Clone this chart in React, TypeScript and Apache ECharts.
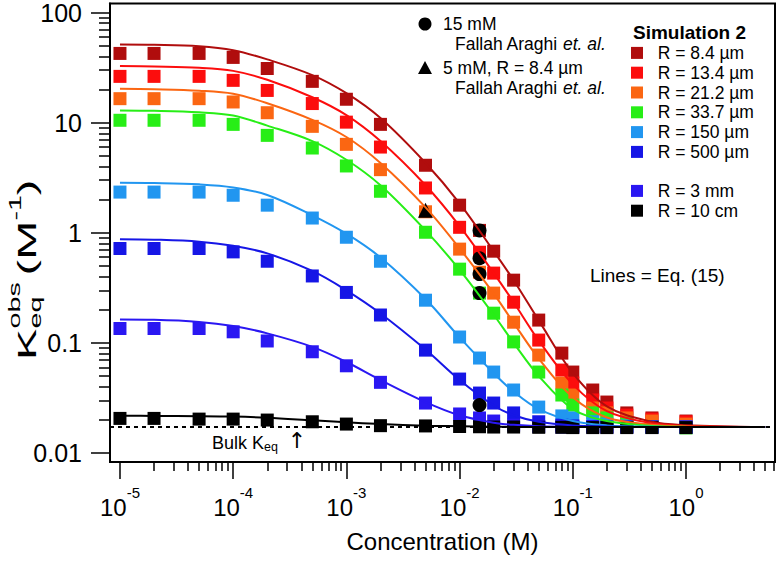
import React, { useEffect, useRef } from "react";
import * as echarts from "echarts";

const FONT = '"Liberation Sans", Arial, Helvetica, sans-serif';

// ---------- data ----------
// concentrations (M) of the simulated points (squares)
const CONC = [1e-5, 2e-5, 5e-5, 1e-4, 2e-4, 5e-4, 1e-3, 2e-3, 5e-3, 1e-2, 1.5e-2, 2e-2, 3e-2, 5e-2, 8e-2, 1e-1, 1.5e-1, 2e-1, 3e-1, 5e-1, 1];

// Simulation 2, K_eq^obs (M^-1)
const SIM_8_4UM = [42.5, 42.5, 42.5, 39.1, 31.0, 23.7, 16.3, 9.64, 4.1, 1.78, 1.05, 0.68, 0.371, 0.161, 0.0807, 0.0543, 0.0373, 0.029, 0.0231, 0.0208, 0.0195];
const SIM_13_4UM = [26.3, 26.3, 26.3, 24.2, 19.6, 14.9, 10.1, 6.0, 2.55, 1.12, 0.665, 0.43, 0.234, 0.106, 0.0566, 0.0431, 0.0303, 0.0256, 0.0221, 0.0203, 0.0192];
const SIM_21_2UM = [16.5, 16.5, 16.5, 15.4, 12.3, 9.25, 6.35, 3.74, 1.55, 0.71, 0.438, 0.283, 0.154, 0.0774, 0.0431, 0.0336, 0.0256, 0.0231, 0.0208, 0.0195, 0.0183];
const SIM_33_7UM = [10.5, 10.5, 10.5, 9.64, 7.66, 5.88, 4.04, 2.38, 1.01, 0.467, 0.283, 0.186, 0.102, 0.0543, 0.0336, 0.0272, 0.0231, 0.0208, 0.0187, 0.0172, 0.0169];
const SIM_150UM = [2.34, 2.34, 2.34, 2.19, 1.78, 1.36, 0.91, 0.551, 0.244, 0.113, 0.0728, 0.0543, 0.0373, 0.0261, 0.0217, 0.0208, 0.0192, 0.0183, 0.0176, 0.0172, 0.0172];
const SIM_500UM = [0.719, 0.719, 0.719, 0.67, 0.551, 0.405, 0.287, 0.179, 0.0859, 0.0469, 0.035, 0.0284, 0.0231, 0.0192, 0.0179, 0.0176, 0.0174, 0.0172, 0.0172, 0.0172, 0.0172];
const SIM_3MM = [0.135, 0.135, 0.135, 0.126, 0.104, 0.083, 0.0619, 0.0438, 0.0284, 0.0226, 0.0208, 0.0195, 0.0179, 0.0174, 0.0172, 0.0172, 0.0172, 0.0172, 0.0172, 0.0172, 0.0172];
const SIM_10CM = [0.0206, 0.0206, 0.0203, 0.0203, 0.0199, 0.0192, 0.0183, 0.0177, 0.0176, 0.0174, 0.0173, 0.0172, 0.0172, 0.0171, 0.0171, 0.017, 0.017, 0.017, 0.017, 0.017, 0.017];

// Lines = Eq. (15)
const LINE_CONC = [1e-5, 2e-5, 5e-5, 1e-4, 2e-4, 5e-4, 1e-3, 2e-3, 5e-3, 1e-2, 2e-2, 3e-2, 5e-2, 1e-1, 2e-1, 5e-1, 1, 5];
const EQ_8_4UM = [51.3, 51.0, 49.5, 45.5, 37.5, 27, 18.5, 11, 4.3, 1.85, 0.68, 0.37, 0.16, 0.053, 0.0265, 0.0192, 0.0179, 0.0172];
const EQ_13_4UM = [32.6, 32.3, 31.5, 29.5, 24.5, 17.0, 11.7, 6.8, 2.7, 1.15, 0.43, 0.234, 0.105, 0.042, 0.024, 0.0186, 0.0176, 0.0172];
const EQ_21_2UM = [20.3, 20.1, 19.5, 18.3, 15.0, 10.6, 7.4, 4.3, 1.7, 0.72, 0.28, 0.152, 0.072, 0.032, 0.021, 0.018, 0.0174, 0.0172];
const EQ_33_7UM = [12.9, 12.8, 12.4, 11.6, 9.4, 6.8, 4.6, 2.7, 1.05, 0.46, 0.18, 0.1, 0.05, 0.025, 0.0195, 0.0176, 0.0173, 0.0172];
const EQ_150UM = [2.85, 2.83, 2.75, 2.58, 2.2, 1.44, 0.98, 0.596, 0.25, 0.112, 0.053, 0.036, 0.025, 0.0195, 0.0178, 0.0173, 0.0172, 0.0172];
const EQ_500UM = [0.873, 0.865, 0.83, 0.76, 0.65, 0.45, 0.3, 0.185, 0.087, 0.046, 0.027, 0.022, 0.0192, 0.0178, 0.0174, 0.0172, 0.0172, 0.0172];
const EQ_3MM = [0.163, 0.162, 0.155, 0.142, 0.122, 0.092, 0.067, 0.046, 0.029, 0.022, 0.0188, 0.018, 0.0175, 0.0173, 0.0172, 0.0172, 0.0172, 0.0172];
const EQ_10CM = [0.0218, 0.0217, 0.0216, 0.0214, 0.0209, 0.0198, 0.019, 0.0183, 0.0177, 0.0175, 0.0173, 0.0172, 0.0172, 0.0172, 0.0172, 0.0172, 0.0172, 0.0172];

// Fallah Araghi et. al.
const EXP_15MM_CONC = 0.015;
const EXP_15MM_K = [1.05, 0.587, 0.421, 0.283, 0.0272];
const EXP_5MM_CONC = 0.005;
const EXP_5MM_K = [1.6];

const BULK_K = 0.0172;

const SERIES_NAMES = ["R = 8.4 µm", "R = 13.4 µm", "R = 21.2 µm", "R = 33.7 µm", "R = 150 µm", "R = 500 µm", "R = 3 mm", "R = 10 cm"];
const X_TICK_EXPONENTS = [-5, -4, -3, -2, -1, 0];
const Y_TICK_LABELS = ["0.01", "0.1", "1", "10", "100"];
const Y_TICK_VALUES = [0.01, 0.1, 1, 10, 100];

const SIM = [SIM_8_4UM, SIM_13_4UM, SIM_21_2UM, SIM_33_7UM, SIM_150UM, SIM_500UM, SIM_3MM, SIM_10CM];
const EQ = [EQ_8_4UM, EQ_13_4UM, EQ_21_2UM, EQ_33_7UM, EQ_150UM, EQ_500UM, EQ_3MM, EQ_10CM];

// ---------- styles ----------
const COLORS = ["#b00d0d", "#fc0d0d", "#fb6612", "#27ee16", "#2196f0", "#1616e6", "#2a17f2", "#000000"];

const L = Math.log10;
// axis extents in decades
const X_MIN = -5.088;
const X_MAX = 0.786;
const Y_MIN = -2.082;
const Y_MAX = 2.082;

function minorTicks(lo: number, hi: number, from: number, to: number) {
  const out: number[] = [];
  for (let n = lo; n <= hi; n++) {
    for (let k = 2; k <= 9; k++) {
      const v = n + L(k);
      if (v > from && v < to) out.push(v);
    }
  }
  return out;
}

function buildOption(): any {
  const xMajor = X_TICK_EXPONENTS;
  const yMajor = Y_TICK_VALUES.map(L);
  const xMinor = minorTicks(-5, 0, -5, X_MAX);
  const yMinor = minorTicks(-2, 1, -2, Y_MAX);

  const scatterSeries = SIM.map((vals, i) => ({
    name: SERIES_NAMES[i],
    type: "scatter",
    symbol: "rect",
    symbolSize: 13,
    itemStyle: { color: COLORS[i], opacity: 1 },
    data: CONC.map((c, j) => [L(c), L(vals[j])]),
  }));

  const lineSeries = EQ.map((vals, i) => ({
    name: SERIES_NAMES[i] + " (Eq. 15)",
    type: "line",
    symbol: "none",
    showSymbol: false,
    smooth: 0.35,
    lineStyle: { color: COLORS[i], width: 2 },
    data: LINE_CONC.map((c, j) => [L(c), L(vals[j])]),
    ...(i === 7
      ? {
          markLine: {
            silent: true,
            symbol: ["none", "none"],
            label: { show: false },
            lineStyle: { color: "#000", width: 2, type: [4, 4] },
            data: [{ yAxis: L(BULK_K) }],
          },
        }
      : {}),
  }));

  const expSeries = [
    {
      name: "15 mM",
      type: "scatter",
      symbol: "circle",
      symbolSize: 14,
      itemStyle: { color: "#000", opacity: 1 },
      data: EXP_15MM_K.map((k) => [L(EXP_15MM_CONC), L(k)]),
    },
    {
      name: "5 mM",
      type: "scatter",
      symbol: "triangle",
      symbolSize: 15,
      itemStyle: { color: "#000", opacity: 1 },
      data: EXP_5MM_K.map((k) => [L(EXP_5MM_CONC), L(k)]),
    },
  ];

  const txt = (x: number, y: number, text: string, extra: any = {}) => ({
    type: "text",
    x,
    y,
    style: { text, fill: "#000", fontFamily: FONT, fontSize: 17.5, verticalAlign: "middle", align: "left", ...extra },
  });
  const fallah = (x: number, y: number) =>
    txt(x, y, "{n|Fallah Araghi }{i|et. al.}", {
      rich: {
        n: { fontFamily: FONT, fontSize: 17.5, fill: "#000" },
        i: { fontFamily: FONT, fontSize: 17.5, fontStyle: "italic", fill: "#000" },
      },
    });

  const legendCommon = {
    orient: "vertical",
    left: 631,
    padding: 0,
    itemWidth: 12,
    itemHeight: 12,
    itemGap: 0,
    icon: "rect",
    selectedMode: false,
    formatter: (n: string) => "  " + n,
    textStyle: { fontFamily: FONT, fontSize: 17.5, color: "#000", lineHeight: 19.8 },
  };

  const T = (x: number, y: number, text: string, size: number) => ({
    type: "text",
    x,
    y,
    style: { text, fontFamily: FONT, fontSize: size, fill: "#000", verticalAlign: "middle" },
  });

  return {
    animation: false,
    backgroundColor: "#fff",
    grid: { left: 110, top: 3, right: 5, bottom: 110, show: true, borderColor: "#000", borderWidth: 2, backgroundColor: "transparent" },
    legend: [
      { ...legendCommon, top: 43, data: SERIES_NAMES.slice(0, 6) },
      { ...legendCommon, top: 181, data: SERIES_NAMES.slice(6) },
    ],
    xAxis: [
      {
        type: "value",
        min: X_MIN,
        max: X_MAX,
        position: "bottom",
        axisLine: { show: true, onZero: false, lineStyle: { color: "#000", width: 2 } },
        axisTick: { show: true, length: 17, customValues: xMajor, lineStyle: { color: "#000", width: 1.5 } },
        axisLabel: {
          customValues: xMajor,
          margin: 23,
          formatter: (v: number) => `{b|10}{s|${Math.round(v)}}`,
          rich: {
            b: { fontFamily: FONT, fontSize: 24, color: "#000", lineHeight: 44 },
            s: { fontFamily: FONT, fontSize: 15, color: "#000", lineHeight: 14, verticalAlign: "top" },
          },
        },
        splitLine: { show: false },
        name: "Concentration (M)",
        nameLocation: "middle",
        nameGap: 67,
        nameTextStyle: { fontFamily: FONT, fontSize: 24, color: "#000" },
      },
      {
        type: "value",
        min: X_MIN,
        max: X_MAX,
        position: "bottom",
        axisLine: { show: false, onZero: false },
        axisTick: { show: true, length: 9, customValues: xMinor, lineStyle: { color: "#000", width: 1.5 } },
        axisLabel: { show: false },
        splitLine: { show: false },
      },
    ],
    yAxis: [
      {
        type: "value",
        min: Y_MIN,
        max: Y_MAX,
        position: "left",
        axisLine: { show: true, onZero: false, lineStyle: { color: "#000", width: 2 } },
        axisTick: { show: true, length: 19, customValues: yMajor, lineStyle: { color: "#000", width: 1.5 } },
        axisLabel: {
          customValues: yMajor,
          margin: 28,
          fontFamily: FONT,
          fontSize: 25,
          lineHeight: 20,
          color: "#000",
          formatter: (v: number) => Y_TICK_LABELS[Math.round(v) + 2],
        },
        splitLine: { show: false },
      },
      {
        type: "value",
        min: Y_MIN,
        max: Y_MAX,
        position: "left",
        axisLine: { show: false, onZero: false },
        axisTick: { show: true, length: 11, customValues: yMinor, lineStyle: { color: "#000", width: 1.5 } },
        axisLabel: { show: false },
        splitLine: { show: false },
      },
    ],
    series: [...scatterSeries, ...lineSeries, ...expSeries],
    graphic: [
      { type: "circle", shape: { cx: 425, cy: 24, r: 6.5 }, style: { fill: "#000" } },
      txt(443, 24, "15 mM"),
      fallah(455, 44),
      { type: "polygon", shape: { points: [[425, 61], [418, 74], [432, 74]] }, style: { fill: "#000" } },
      txt(443, 68, "5 mM, R = 8.4 µm"),
      fallah(455, 88),
      txt(633, 32, "Simulation 2", { fontWeight: "bold", fontSize: 19 }),
      txt(590, 275, "Lines = Eq. (15)", { fontSize: 19 }),
      txt(212, 443, "{a|Bulk K}{s|eq}", {
        rich: {
          a: { fontFamily: FONT, fontSize: 18, fill: "#000", lineHeight: 20 },
          s: { fontFamily: FONT, fontSize: 12.5, fill: "#000", lineHeight: 8, verticalAlign: "bottom" },
        },
      }),
      txt(297, 440, "↑", { fontFamily: '"DejaVu Sans", sans-serif', fontSize: 22, align: "center" }),
      {
        type: "group",
        x: 27,
        y: 270,
        rotation: Math.PI / 2,
        scaleX: 1.8,
        children: [
          T(-50, 0, "K", 26),
          T(-32.5, 9, "eq", 16),
          T(-32.5, -12, "obs", 16),
          T(-3, 0, "(M", 26),
          T(27.5, -11, "-1", 16),
          T(41.5, 0, ")", 26),
        ],
      },
    ],
  };
}

export default function App() {
  const ref = useRef<HTMLDivElement>(null);
  useEffect(() => {
    if (!ref.current) return;
    const chart = echarts.init(ref.current, null, { renderer: "svg" });
    chart.setOption(buildOption());
    return () => chart.dispose();
  }, []);
  return <div ref={ref} style={{ position: "fixed", left: 0, top: 0, width: 780, height: 572 }} />;
}
